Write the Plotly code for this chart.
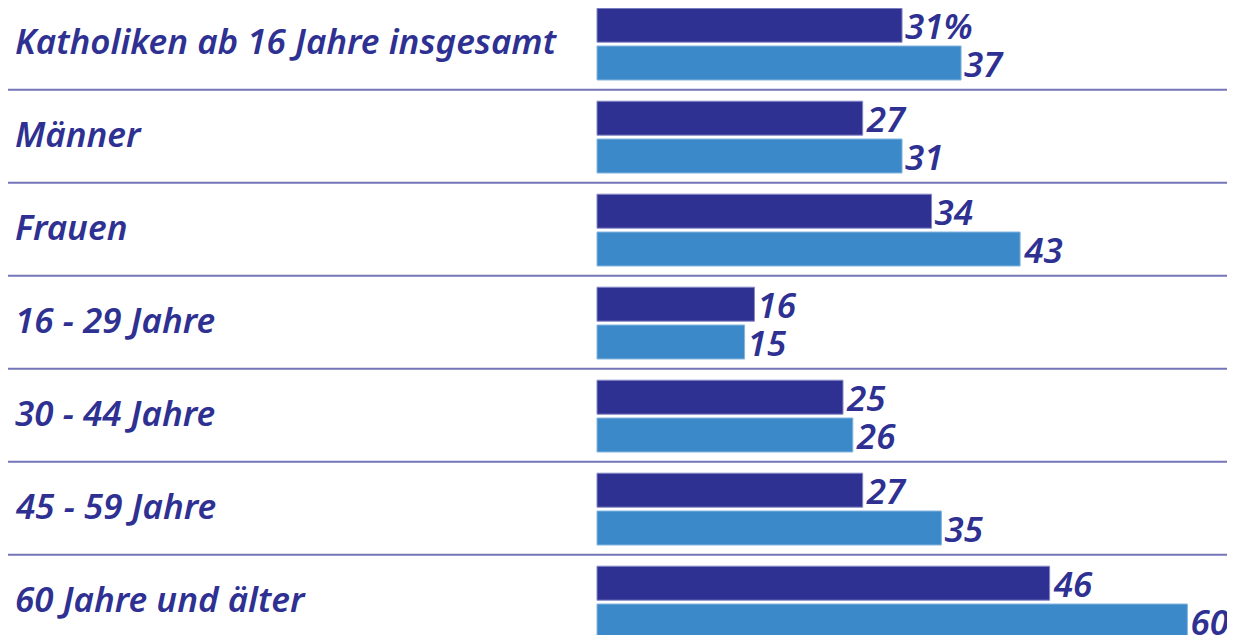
import plotly.graph_objects as go

categories = [
    "Katholiken ab 16 Jahre insgesamt",
    "Männer",
    "Frauen",
    "16 - 29 Jahre",
    "30 - 44 Jahre",
    "45 - 59 Jahre",
    "60 Jahre und älter",
]
series_a = [31, 27, 34, 16, 25, 27, 46]
series_b = [37, 31, 43, 15, 26, 35, 60]
labels_a = ["31%"] + [str(v) for v in series_a[1:]]
labels_b = [str(v) for v in series_b]

DARK = "#2E3192"
LIGHT = "#3B89C8"
TEXT = "#2E3192"
FONT = "Noto Sans"

# page body adds an 8px margin; compensate so the figure lands like the reference
SHIFT = 8
W, H = 1235 - SHIFT, 635 - SHIFT
row_px = 93.0
px_per_unit = 9.84
x0_px = 597 - SHIFT
top_px = 43.2 - SHIFT  # centre of first row

y_top = -top_px / row_px
y_bottom = y_top + H / row_px

text_font = dict(family=FONT, size=35, color=TEXT, style="italic", weight=600)

fig = go.Figure()
fig.add_trace(go.Bar(
    y=categories, x=series_a, orientation="h",
    offset=-35 / row_px, width=34 / row_px,
    marker=dict(color=DARK, line=dict(color="#8688c6", width=1)),
    text=labels_a, textposition="outside", constraintext="none",
    textfont=text_font, cliponaxis=False, hoverinfo="skip",
))
fig.add_trace(go.Bar(
    y=categories, x=series_b, orientation="h",
    offset=2.8 / row_px, width=34 / row_px,
    marker=dict(color=LIGHT, line=dict(color="#86b6e0", width=1)),
    text=labels_b, textposition="outside", constraintext="none",
    textfont=text_font, cliponaxis=False, hoverinfo="skip",
))

for i, c in enumerate(categories):
    fig.add_annotation(
        x=(13 - SHIFT) / W, xref="paper", y=i - 3 / row_px, yref="y",
        text=c, showarrow=False, xanchor="left", yanchor="middle",
        font=text_font,
    )

for i in range(len(categories) - 1):
    fig.add_shape(
        type="line", xref="paper", yref="y",
        x0=0, x1=1, y0=i + 0.5, y1=i + 0.5,
        line=dict(color="#7474b8", width=2),
    )

fig.update_layout(
    width=W, height=H,
    margin=dict(l=0, r=0, t=0, b=0),
    plot_bgcolor="white", paper_bgcolor="white",
    barmode="overlay", showlegend=False,
    xaxis=dict(range=[-x0_px / px_per_unit, (W - x0_px) / px_per_unit],
               visible=False, fixedrange=True),
    yaxis=dict(range=[y_bottom, y_top], visible=False,
               categoryorder="array", categoryarray=categories,
               fixedrange=True),
)

fig.write_html("out.html")
